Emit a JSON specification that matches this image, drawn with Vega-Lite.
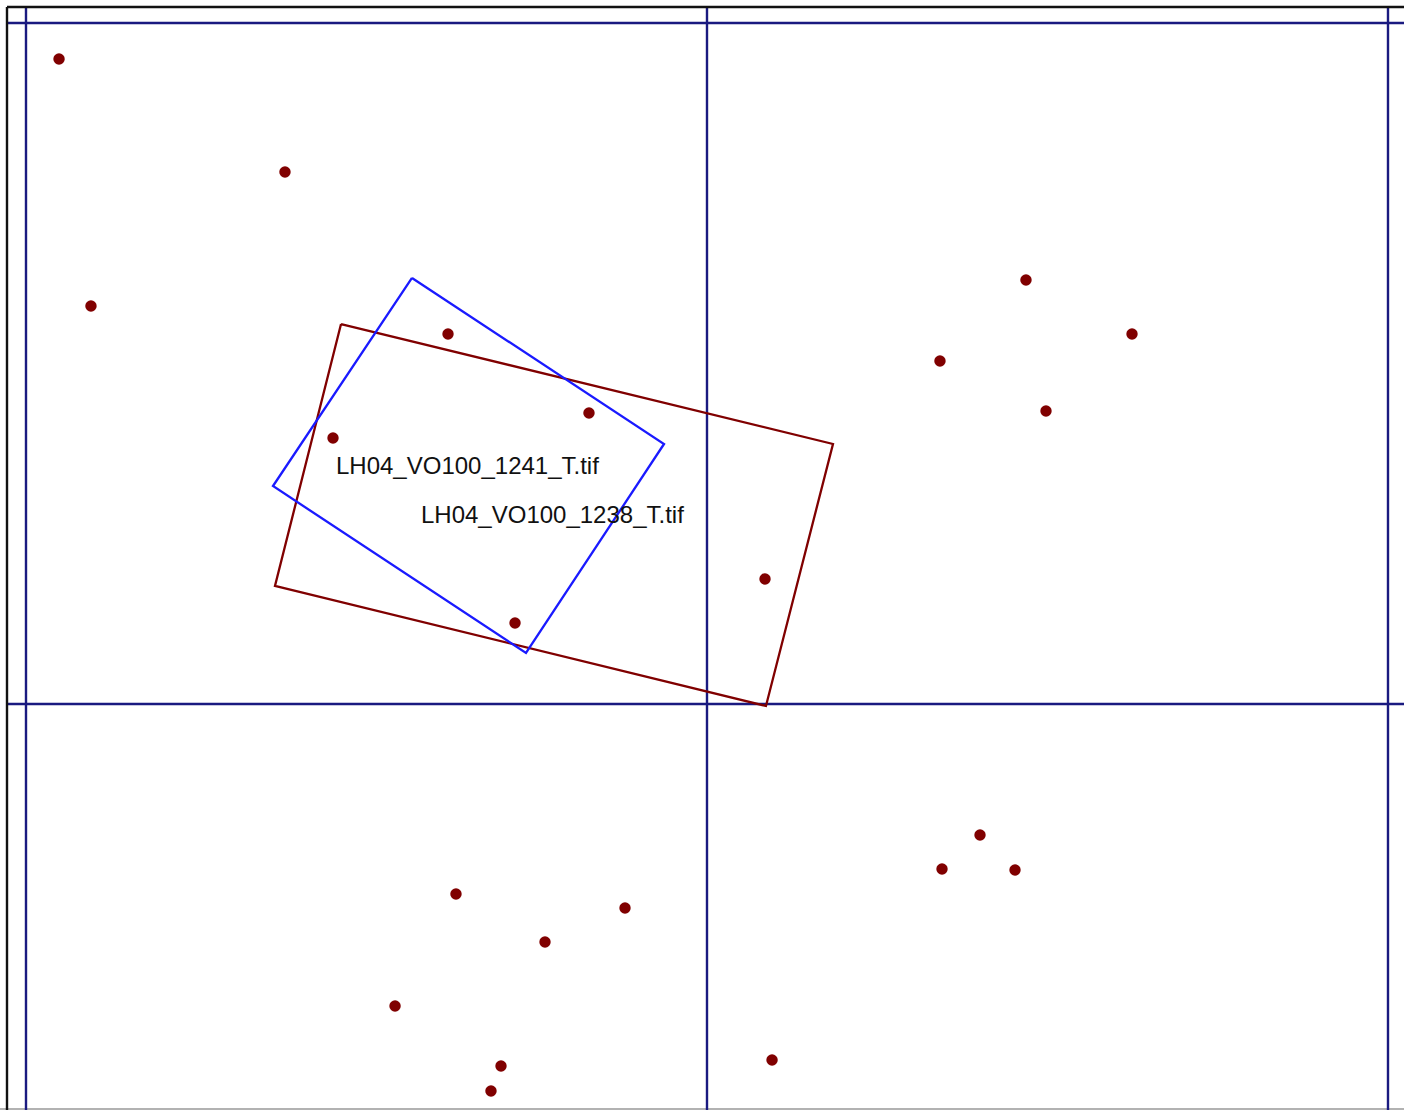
{
  "$schema": "https://vega.github.io/schema/vega-lite/v6.json",
  "width": 1404,
  "height": 1110,
  "autosize": "none",
  "padding": 0,
  "background": "white",
  "config": {"view": {"stroke": null}},
  "datasets": {
    "grid": [
      {"x": 0, "x2": 0, "y": -700, "y2": 1023.5},
      {"x": 1000, "x2": 1000, "y": -700, "y2": 1023.5},
      {"x": 2000, "x2": 2000, "y": -700, "y2": 1023.5},
      {"x": -27.9, "x2": 2100, "y": 1000, "y2": 1000},
      {"x": -27.9, "x2": 2100, "y": 0, "y2": 0}
    ],
    "frame": [
      {"x": -27.9, "x2": -27.9, "y": -700, "y2": 1023.5},
      {"x": -27.9, "x2": 2100, "y": 1023.5, "y2": 1023.5}
    ],
    "edge": [
      {"x": -38.18, "x2": 2100, "y": -594.9, "y2": -594.9}
    ],
    "polys": [
      {"poly": "1238", "i": 0, "x": 462.6, "y": 558.0},
      {"poly": "1238", "i": 1, "x": 1185.0, "y": 381.8},
      {"poly": "1238", "i": 2, "x": 1086.6, "y": -2.9},
      {"poly": "1238", "i": 3, "x": 365.6, "y": 173.3},
      {"poly": "1238", "i": 4, "x": 462.6, "y": 558.0},
      {"poly": "1241", "i": 0, "x": 566.8, "y": 625.6},
      {"poly": "1241", "i": 1, "x": 936.9, "y": 381.8},
      {"poly": "1241", "i": 2, "x": 734.2, "y": 74.9},
      {"poly": "1241", "i": 3, "x": 362.7, "y": 320.1},
      {"poly": "1241", "i": 4, "x": 566.8, "y": 625.6}
    ],
    "points": [
      {"x": 48.5, "y": 947.1},
      {"x": 380.3, "y": 781.2},
      {"x": 95.4, "y": 584.4},
      {"x": 619.7, "y": 543.3},
      {"x": 826.7, "y": 427.3},
      {"x": 450.8, "y": 390.6},
      {"x": 718.1, "y": 118.9},
      {"x": 1085.2, "y": 183.6},
      {"x": 1468.4, "y": 622.6},
      {"x": 1624.1, "y": 543.3},
      {"x": 1342.1, "y": 503.7},
      {"x": 1497.8, "y": 430.3},
      {"x": 1400.9, "y": -192.4},
      {"x": 1345.1, "y": -242.3},
      {"x": 1452.3, "y": -243.8},
      {"x": 631.4, "y": -279.0},
      {"x": 879.6, "y": -299.6},
      {"x": 762.1, "y": -349.5},
      {"x": 541.9, "y": -443.5},
      {"x": 697.5, "y": -531.6},
      {"x": 682.8, "y": -568.3},
      {"x": 1095.5, "y": -522.8}
    ],
    "labels": [
      {"x": 455.2, "y": 337.7, "text": "LH04_VO100_1241_T.tif"},
      {"x": 580.0, "y": 265.8, "text": "LH04_VO100_1238_T.tif"}
    ]
  },
  "encoding": {
    "x": {"field": "x", "type": "quantitative", "scale": {"domain": [-38.18, 2023.5], "nice": false, "zero": false}, "axis": null},
    "y": {"field": "y", "type": "quantitative", "scale": {"domain": [-596.2, 1033.8], "nice": false, "zero": false}, "axis": null}
  },
  "layer": [
    {
      "data": {"name": "edge"},
      "mark": {"type": "rule", "color": "#999999", "strokeWidth": 1.5, "clip": true},
      "encoding": {"x2": {"field": "x2"}, "y2": {"field": "y2"}}
    },
    {
      "data": {"name": "grid"},
      "mark": {"type": "rule", "color": "#1a1a80", "strokeWidth": 2.4, "clip": true},
      "encoding": {"x2": {"field": "x2"}, "y2": {"field": "y2"}}
    },
    {
      "data": {"name": "frame"},
      "mark": {"type": "rule", "color": "#111111", "strokeWidth": 2.4, "clip": true},
      "encoding": {"x2": {"field": "x2"}, "y2": {"field": "y2"}}
    },
    {
      "data": {"name": "polys"},
      "mark": {"type": "line", "strokeWidth": 2.3, "clip": true},
      "encoding": {
        "order": {"field": "i", "type": "quantitative"},
        "detail": {"field": "poly"},
        "color": {"field": "poly", "type": "nominal", "scale": {"domain": ["1238", "1241"], "range": ["#800000", "#1a1aff"]}, "legend": null}
      }
    },
    {
      "data": {"name": "points"},
      "mark": {"type": "circle", "size": 130, "color": "#800000", "opacity": 1}
    },
    {
      "data": {"name": "labels"},
      "mark": {"type": "text", "align": "left", "baseline": "alphabetic", "font": "Liberation Sans", "fontSize": 24, "color": "#111111"},
      "encoding": {"text": {"field": "text"}}
    }
  ]
}
